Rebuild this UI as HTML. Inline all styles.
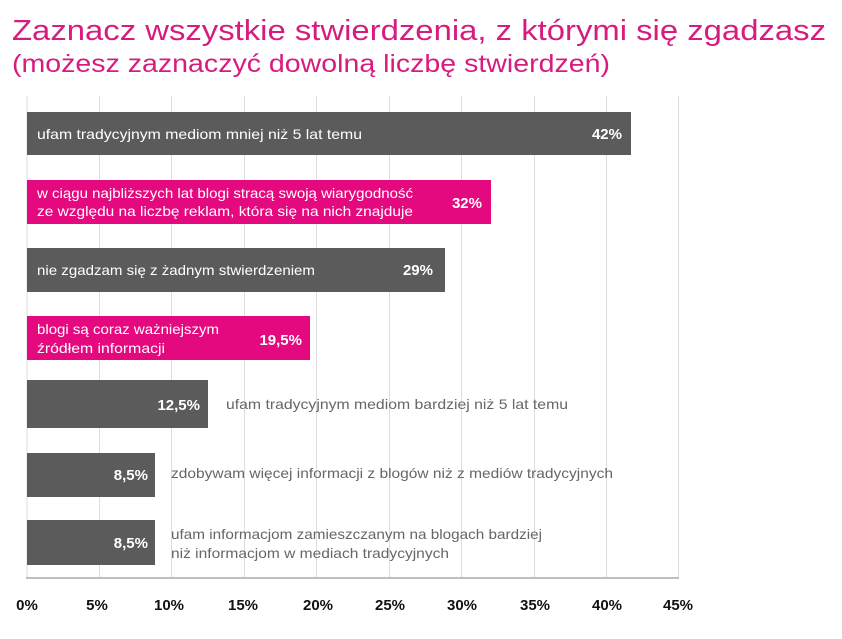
<!DOCTYPE html><html><head><meta charset="utf-8"><style>body{margin:0;background:#fff}svg{display:block}</style></head><body>
<svg width="842" height="639" xmlns="http://www.w3.org/2000/svg" font-family="Liberation Sans, DejaVu Sans, sans-serif">
<text x="12" y="40" font-size="29" fill="#d81b7e" textLength="814" lengthAdjust="spacingAndGlyphs">Zaznacz wszystkie stwierdzenia, z którymi się zgadzasz</text>
<text x="12" y="72" font-size="25" fill="#d81b7e" textLength="598" lengthAdjust="spacingAndGlyphs">(możesz zaznaczyć dowolną liczbę stwierdzeń)</text>
<g stroke="#ddd" stroke-width="1">
<line x1="27" y1="96" x2="27" y2="578"/><line x1="99.5" y1="96" x2="99.5" y2="578"/><line x1="171.5" y1="96" x2="171.5" y2="578"/><line x1="244.5" y1="96" x2="244.5" y2="578"/><line x1="316.5" y1="96" x2="316.5" y2="578"/><line x1="389.5" y1="96" x2="389.5" y2="578"/><line x1="461.5" y1="96" x2="461.5" y2="578"/><line x1="534.5" y1="96" x2="534.5" y2="578"/><line x1="606.5" y1="96" x2="606.5" y2="578"/><line x1="678.5" y1="96" x2="678.5" y2="578"/>
</g>
<line x1="26" y1="578" x2="679" y2="578" stroke="#aaa" stroke-width="1.5"/>
<rect x="27" y="112" width="604" height="43" fill="#5b5b5b"/>
<rect x="27" y="180" width="464" height="44" fill="#e5097f"/>
<rect x="27" y="248" width="418" height="44" fill="#5b5b5b"/>
<rect x="27" y="316" width="283" height="44" fill="#e5097f"/>
<rect x="27" y="380" width="181" height="48" fill="#5b5b5b"/>
<rect x="27" y="453" width="128" height="44" fill="#5b5b5b"/>
<rect x="27" y="520" width="128" height="45" fill="#5b5b5b"/>
<g font-size="14" fill="#fff">
<text x="37" y="139" textLength="325" lengthAdjust="spacingAndGlyphs">ufam tradycyjnym mediom mniej niż 5 lat temu</text>
<text x="37" y="198" textLength="376" lengthAdjust="spacingAndGlyphs">w ciągu najbliższych lat blogi stracą swoją wiarygodność</text>
<text x="37" y="216" textLength="376" lengthAdjust="spacingAndGlyphs">ze względu na liczbę reklam, która się na nich znajduje</text>
<text x="37" y="275" textLength="278" lengthAdjust="spacingAndGlyphs">nie zgadzam się z żadnym stwierdzeniem</text>
<text x="37" y="334" textLength="182" lengthAdjust="spacingAndGlyphs">blogi są coraz ważniejszym</text>
<text x="37" y="353" textLength="128" lengthAdjust="spacingAndGlyphs">źródłem informacji</text>
</g>
<g font-size="15" fill="#fff" font-weight="bold" text-anchor="end">
<text x="622" y="139">42%</text>
<text x="482" y="208">32%</text>
<text x="433" y="275">29%</text>
<text x="302" y="345">19,5%</text>
<text x="200" y="410">12,5%</text>
<text x="148" y="480">8,5%</text>
<text x="148" y="548">8,5%</text>
</g>
<g font-size="14" fill="#666">
<text x="226" y="409" textLength="342" lengthAdjust="spacingAndGlyphs">ufam tradycyjnym mediom bardziej niż 5 lat temu</text>
<text x="171" y="478" textLength="442" lengthAdjust="spacingAndGlyphs">zdobywam więcej informacji z blogów niż z mediów tradycyjnych</text>
<text x="171" y="539" textLength="371" lengthAdjust="spacingAndGlyphs">ufam informacjom zamieszczanym na blogach bardziej</text>
<text x="171" y="558" textLength="278" lengthAdjust="spacingAndGlyphs">niż informacjom w mediach tradycyjnych</text>
</g>
<g font-size="15" font-weight="bold" fill="#111" text-anchor="middle">
<text x="27" y="610">0%</text><text x="97" y="610">5%</text><text x="169" y="610">10%</text><text x="243" y="610">15%</text><text x="318" y="610">20%</text><text x="390" y="610">25%</text><text x="462" y="610">30%</text><text x="535" y="610">35%</text><text x="607" y="610">40%</text><text x="678" y="610">45%</text>
</g>
</svg>
</body></html>
